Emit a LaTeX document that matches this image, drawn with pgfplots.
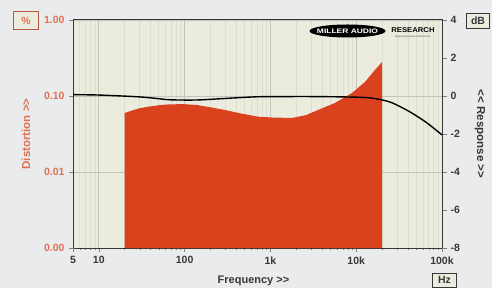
\documentclass[border=0pt]{standalone}
\usepackage{pgfplots}
\pgfplotsset{compat=1.18}
\usetikzlibrary{shapes.geometric}
\usepackage{fontspec}
\setmainfont[Ligatures=NoCommon]{Liberation Sans}
\definecolor{pagebg}{RGB}{234,235,236}
\definecolor{plotbg}{RGB}{236,236,222}
\definecolor{distred}{RGB}{218,66,30}
\definecolor{distlab}{RGB}{226,112,82}
\definecolor{axdark}{RGB}{55,55,55}
\definecolor{gridmaj}{RGB}{196,196,186}
\definecolor{gridmin}{RGB}{221,221,208}
\begin{document}
\begin{tikzpicture}
\path[use as bounding box, fill=pagebg] (-73pt,-40pt) rectangle (419pt,248pt);
\begin{axis}[
  at={(0pt,0pt)}, anchor=south west, scale only axis,
  width=369pt, height=228pt,
  xmode=log, ymode=log,
  xmin=5, xmax=100000, ymin=0.001, ymax=1,
  axis background/.style={fill=plotbg},
  xtick={10,100,1000,10000,100000},
  xticklabels={10,100,1k,10k,100k},
  extra x ticks={5}, extra x tick labels={5},
  extra x tick style={grid=none},
  minor xtick={6,7,8,9,20,30,40,50,60,70,80,90,200,300,400,500,600,700,800,900,2000,3000,4000,5000,6000,7000,8000,9000,20000,30000,40000,50000,60000,70000,80000,90000},
  ytick={0.001,0.01,0.1,1},
  yticklabels={0.00,0.01,0.10,1.00},
  yminorticks=false,
  xtick pos=bottom, ytick pos=left,
  tick align=outside,
  major tick length=4pt, minor tick length=2.5pt,
  every tick/.style={gray},
  xmajorgrids, xminorgrids, ymajorgrids,
  major grid style={gridmaj, line width=0.7pt},
  minor grid style={gridmin, line width=0.6pt},
  axis line style={axdark, line width=1pt},
  tick label style={font=\bfseries\fontsize{10.5}{12}\selectfont},
  y tick label style={color=distlab, xshift=-1pt},
  x tick label style={color=axdark, yshift=-1pt},
  xlabel={Frequency >{}>},
  ylabel={Distortion >{}>},
  every axis x label/.style={at={(axis description cs:0.5,0)}, yshift=-33pt, xshift=-4pt, anchor=center, font=\bfseries\fontsize{11}{13}\selectfont, color=axdark},
  every axis y label/.style={at={(axis description cs:0,0.5)}, xshift=-47pt, rotate=90, anchor=center, font=\bfseries\fontsize{11.5}{13}\selectfont, color=distlab},
]
\addplot[fill=distred, draw=none] coordinates {
  (20,0.001) (20,0.0597) (25,0.065) (30,0.069) (36,0.0717) (50,0.0755)
  (67,0.0778) (100,0.078) (139,0.0761) (200,0.071) (296,0.0654)
  (450,0.059) (717,0.0534) (1100,0.052) (1784,0.0514) (2600,0.056)
  (3580,0.0654) (5650,0.0809) (8930,0.1095) (12650,0.153)
  (16550,0.220) (20000,0.280) (20000,0.001)
};
\end{axis}
\begin{axis}[
  at={(0pt,0pt)}, anchor=south west, scale only axis,
  width=369pt, height=228pt,
  xmode=log, xmin=5, xmax=100000, ymin=-8, ymax=4,
  axis x line=none, axis y line*=right,
  ytick={-8,-6,-4,-2,0,2,4},
  yticklabels={-8,-6,-4,-2,0,2,4},
  tick align=outside, major tick length=5pt,
  every tick/.style={gray},
  axis line style={axdark, line width=1pt},
  y tick label style={font=\bfseries\fontsize{10.5}{12}\selectfont, color=axdark},
  ylabel={<{}< Response >{}>},
  every axis y label/.style={at={(axis description cs:1,0.5)}, xshift=38pt, rotate=-90, anchor=center, font=\bfseries\fontsize{11.5}{13}\selectfont, color=axdark},
]
\addplot[black, line width=1.4pt, smooth] coordinates {
  (5,0.07) (10,0.05) (28,-0.04) (45,-0.12) (68,-0.2) (140,-0.21)
  (296,-0.13) (717,-0.04) (1690,-0.03) (3050,-0.03) (7400,-0.05)
  (14500,-0.1) (24800,-0.32) (42400,-0.84) (66900,-1.42) (100000,-2.05)
};
\end{axis}
% unit boxes
\node[draw=distlab!80!black, fill=plotbg, line width=0.8pt, minimum width=25pt, minimum height=18pt, inner sep=1pt, text=distlab, font=\bfseries\fontsize{10.5}{12}\selectfont] at (-47pt,227.5pt) {\%};
\node[draw=axdark, fill=plotbg, line width=0.8pt, minimum width=23pt, minimum height=15pt, inner sep=1pt, text=axdark, font=\bfseries\fontsize{10.5}{12}\selectfont] at (405pt,227.5pt) {dB};
\node[draw=axdark, fill=plotbg, line width=0.8pt, minimum width=24pt, minimum height=14pt, inner sep=1pt, text=axdark, font=\bfseries\fontsize{10.5}{12}\selectfont] at (371.5pt,-32pt) {Hz};
% logo
\node[ellipse, fill=black, minimum width=76pt, minimum height=13pt, inner sep=0pt] at (274.5pt,217pt) {};
\node[text=white, font=\bfseries\fontsize{6.5}{7}\selectfont, xscale=1.3] at (274.5pt,217pt) {MILLER AUDIO};
\node[text=black, font=\bfseries\fontsize{7}{7}\selectfont, xscale=1.1] at (340pt,217.5pt) {RESEARCH};
\node[text=black!70, font=\fontsize{2.5}{3}\selectfont] at (340pt,211.5pt) {Engineering Audio Performance};
\end{tikzpicture}
\end{document}
